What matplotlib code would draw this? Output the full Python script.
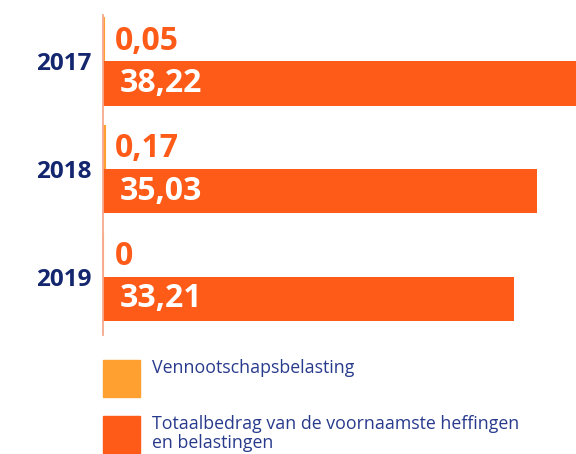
import matplotlib
matplotlib.use("Agg")
import matplotlib.pyplot as plt
from matplotlib.patches import Rectangle
import numpy as np

years = ["2017", "2018", "2019"]
vpb = [0.05, 0.17, 0.0]
totaal = [38.22, 35.03, 33.21]
vpb_labels = ["0,05", "0,17", "0"]
totaal_labels = ["38,22", "35,03", "33,21"]
legend_labels = ["Vennootschapsbelasting",
                 "Totaalbedrag van de voornaamste heffingen\nen belastingen"]

c_light = "#ffa030"
c_dark = "#fe5a18"
c_axis = "#f6aa8e"
c_navy = "#13266e"
c_text = "#283a8c"

plt.rcParams["font.family"] = ["Open Sans", "DejaVu Sans"]

W, H = 576, 454
fig = plt.figure(figsize=(W / 100, H / 100), dpi=100)

# axes box in pixels: left 103, top 15, bottom 335, right edge of figure
ax = fig.add_axes([103 / W, 1 - 335 / H, (W - 103) / W, 320 / H])

y = np.arange(len(years))
h = 0.41
ax.barh(y - h / 2, vpb, height=h, color=c_light, edgecolor=c_light, linewidth=0.8)
ax.barh(y + h / 2, totaal, height=h, color=c_dark)

ax.set_xlim(0, 38.22)
ax.set_ylim(2.54, -0.43)

for s in ["top", "right", "bottom"]:
    ax.spines[s].set_visible(False)
ax.spines["left"].set_color(c_axis)
ax.spines["left"].set_linewidth(1.3)
ax.set_xticks([])
ax.set_yticks(y)
ax.set_yticklabels(years, fontsize=17.5, fontweight="bold", color=c_navy)
ax.tick_params(axis="y", length=0, pad=8)

for i in range(len(years)):
    ax.annotate(vpb_labels[i], (0, y[i] - h / 2), xytext=(12, -2),
                textcoords="offset pixels", ha="left", va="center",
                fontsize=23, fontweight="bold", color=c_dark)
    ax.annotate(totaal_labels[i], (0, y[i] + h / 2), xytext=(17, 0),
                textcoords="offset pixels", ha="left", va="center",
                fontsize=23, fontweight="bold", color="white")

# legend
for k, (lab, col, top) in enumerate(zip(legend_labels, [c_light, c_dark], [360, 416])):
    fig.add_artist(Rectangle((103 / W, 1 - (top + 37) / H), 37 / W, 37 / H,
                             transform=fig.transFigure, color=col))
    fig.text(152 / W, 1 - (top - 1) / H, lab, ha="left", va="top",
             fontsize=12.8, color=c_text, linespacing=1.1)

fig.savefig("out.png", dpi=100)
